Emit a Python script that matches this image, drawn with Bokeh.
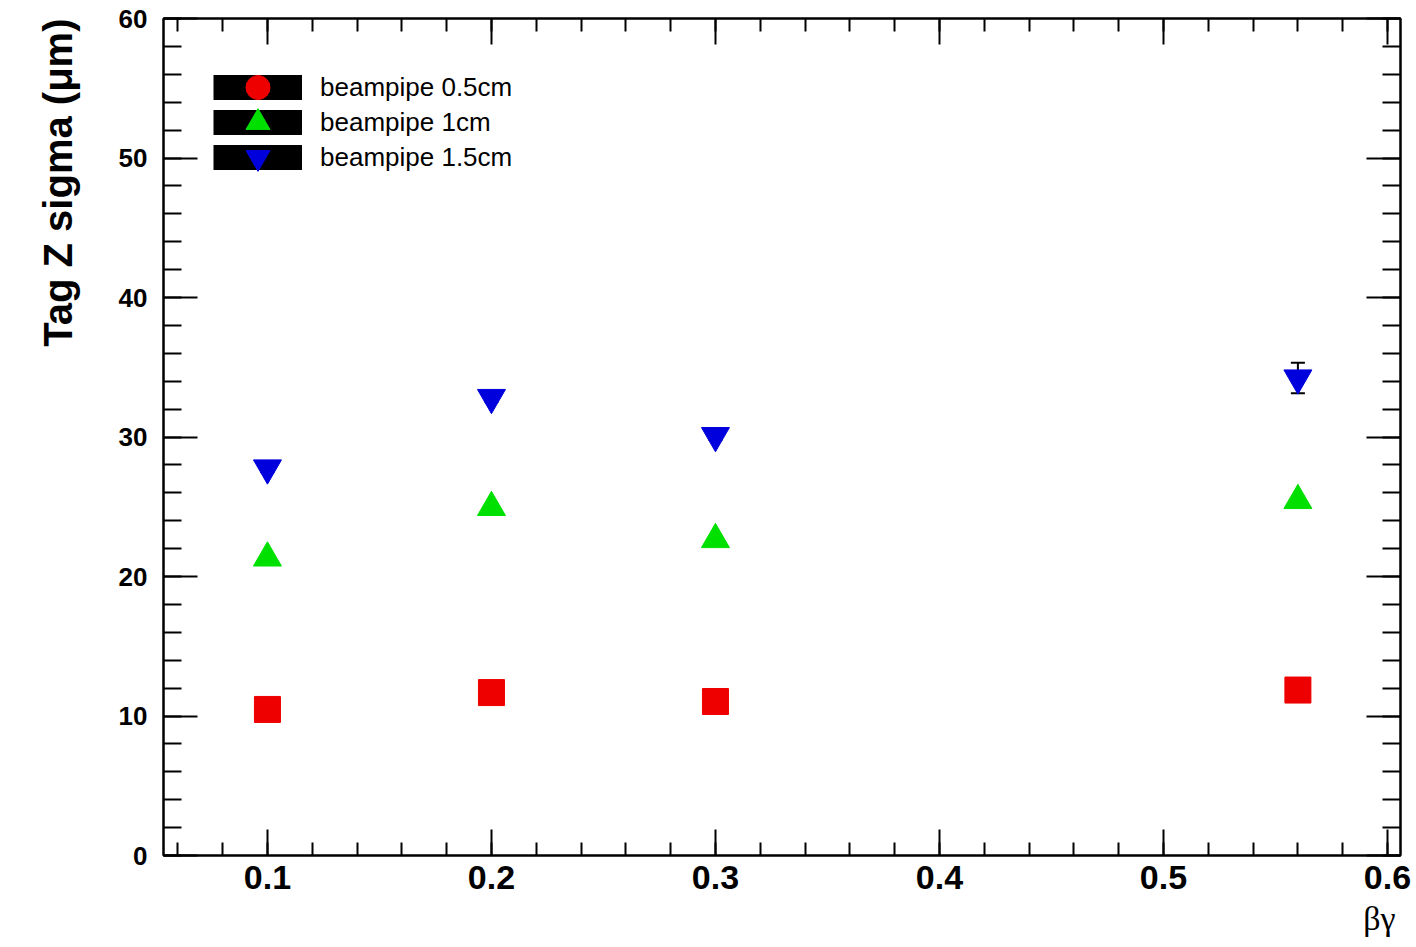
import numpy as np
from bokeh.plotting import figure
from bokeh.models import (LinearAxis, FixedTicker, PrintfTickFormatter, Range1d,
                          Legend, LegendItem, Title, ColumnDataSource, Whisker, TeeHead)
from bokeh.embed import file_html
from bokeh.resources import INLINE

# ---- data ----
beta_gamma = [0.1, 0.2, 0.3, 0.56]
sigma_05cm = [10.47, 11.68, 11.04, 11.86]
sigma_1cm = [21.33, 24.95, 22.65, 25.45]
sigma_15cm = [27.78, 32.83, 30.10, 34.23]
err_15cm = [0.3, 0.3, 0.3, 1.1]
series_labels = ["beampipe 0.5cm", "beampipe 1cm", "beampipe 1.5cm"]
x_major = [0.1, 0.2, 0.3, 0.4, 0.5, 0.6]
x_minor = [round(v, 2) for v in np.arange(0.06, 0.605, 0.02)]
y_major = [0, 10, 20, 30, 40, 50, 60]
y_minor = list(range(0, 61, 2))

RED, GREEN, BLUE = "#ee0000", "#00e000", "#0000dd"
FONT = "Liberation Sans"

p = figure(width=1416, height=947, x_range=Range1d(0.0536, 0.6058), y_range=Range1d(0, 60),
           output_backend="svg", toolbar_location=None,
           min_border_left=163, min_border_right=16, min_border_top=18, min_border_bottom=92)
p.grid.visible = False
p.outline_line_color = "black"
p.outline_line_width = 2
p.background_fill_color = "white"
p.border_fill_color = "white"


def style_axis(ax, ticks, minor, major_len, minor_len, show_labels, font_size="26px", fmt="%d"):
    ax.ticker = FixedTicker(ticks=ticks, minor_ticks=minor)
    ax.formatter = PrintfTickFormatter(format=fmt)
    ax.major_tick_in = major_len
    ax.major_tick_out = 0
    ax.minor_tick_in = minor_len
    ax.minor_tick_out = 0
    ax.axis_line_color = "black"
    ax.axis_line_width = 2
    ax.major_tick_line_color = "black"
    ax.major_tick_line_width = 2
    ax.minor_tick_line_color = "black"
    ax.minor_tick_line_width = 2
    if show_labels:
        ax.major_label_text_font = FONT
        ax.major_label_text_font_style = "bold"
        ax.major_label_text_font_size = font_size
        ax.major_label_text_color = "black"
    else:
        ax.major_label_text_font_size = "0px"
        ax.major_label_text_color = None
        ax.major_label_standoff = 0


xb = p.xaxis[0]
style_axis(xb, x_major, x_minor, 26, 13, True, "34px", "%.1f")
xb.major_label_standoff = 10
yl = p.yaxis[0]
style_axis(yl, y_major, y_minor, 34, 18, True, "26px", "%d")
yl.major_label_standoff = 16

xt = LinearAxis()
style_axis(xt, x_major, x_minor, 26, 13, False)
p.add_layout(xt, "above")
yr = LinearAxis()
style_axis(yr, y_major, y_minor, 34, 18, False)
p.add_layout(yr, "right")

# ---- axis titles (ROOT style: at the end of the axis) ----
y_title = Title(text="Tag Z sigma (μm)", align="right", vertical_align="top", text_font=FONT,
                text_font_style="bold", text_font_size="40px", text_color="black",
                standoff=68)
p.add_layout(y_title, "left")
x_title = Title(text="βγ", align="right", text_font="Liberation Serif",
                text_font_style="normal", text_font_size="34px", text_color="black",
                standoff=12, offset=5)
p.add_layout(x_title, "below")

# ---- error bars (under the markers) ----
err_src = ColumnDataSource(dict(
    x=beta_gamma,
    upper=[v + e for v, e in zip(sigma_15cm, err_15cm)],
    lower=[v - e for v, e in zip(sigma_15cm, err_15cm)]))
wh = Whisker(base="x", upper="upper", lower="lower", source=err_src, level="underlay",
             line_color="black", line_width=2,
             upper_head=TeeHead(size=14, line_color="black", line_width=2),
             lower_head=TeeHead(size=14, line_color="black", line_width=2))
p.add_layout(wh)

# ---- data markers ----
r05 = p.scatter(beta_gamma, sigma_05cm, marker="square", size=26,
                fill_color=RED, line_color=RED)
r10 = p.scatter(beta_gamma, sigma_1cm, marker="triangle", size=28,
                fill_color=GREEN, line_color=GREEN)
r15 = p.scatter(beta_gamma, sigma_15cm, marker="inverted_triangle", size=28,
                fill_color=BLUE, line_color=BLUE)

# ---- legend (ROOT style: black band behind marker), one row per Legend ----
band = p.line(x=[np.nan], y=[np.nan], line_color="black", line_width=25)
red_leg = p.scatter(x=[np.nan], y=[np.nan], marker="circle", fill_color=RED, line_color=RED)

row_renderers = [[band, red_leg], [band, r10], [band, r15]]
row_offsets = [738, 703, 668]
for lab, rends, vy in zip(series_labels, row_renderers, row_offsets):
    lg = Legend(items=[LegendItem(label=lab, renderers=rends)],
                location=(50, vy), glyph_width=89, glyph_height=60, spacing=0, padding=0,
                label_standoff=18, label_text_font=FONT, label_text_font_size="26px",
                label_text_color="black", border_line_color=None, background_fill_alpha=0)
    p.add_layout(lg, "center")

open("out.html", "w").write(file_html(p, INLINE))
